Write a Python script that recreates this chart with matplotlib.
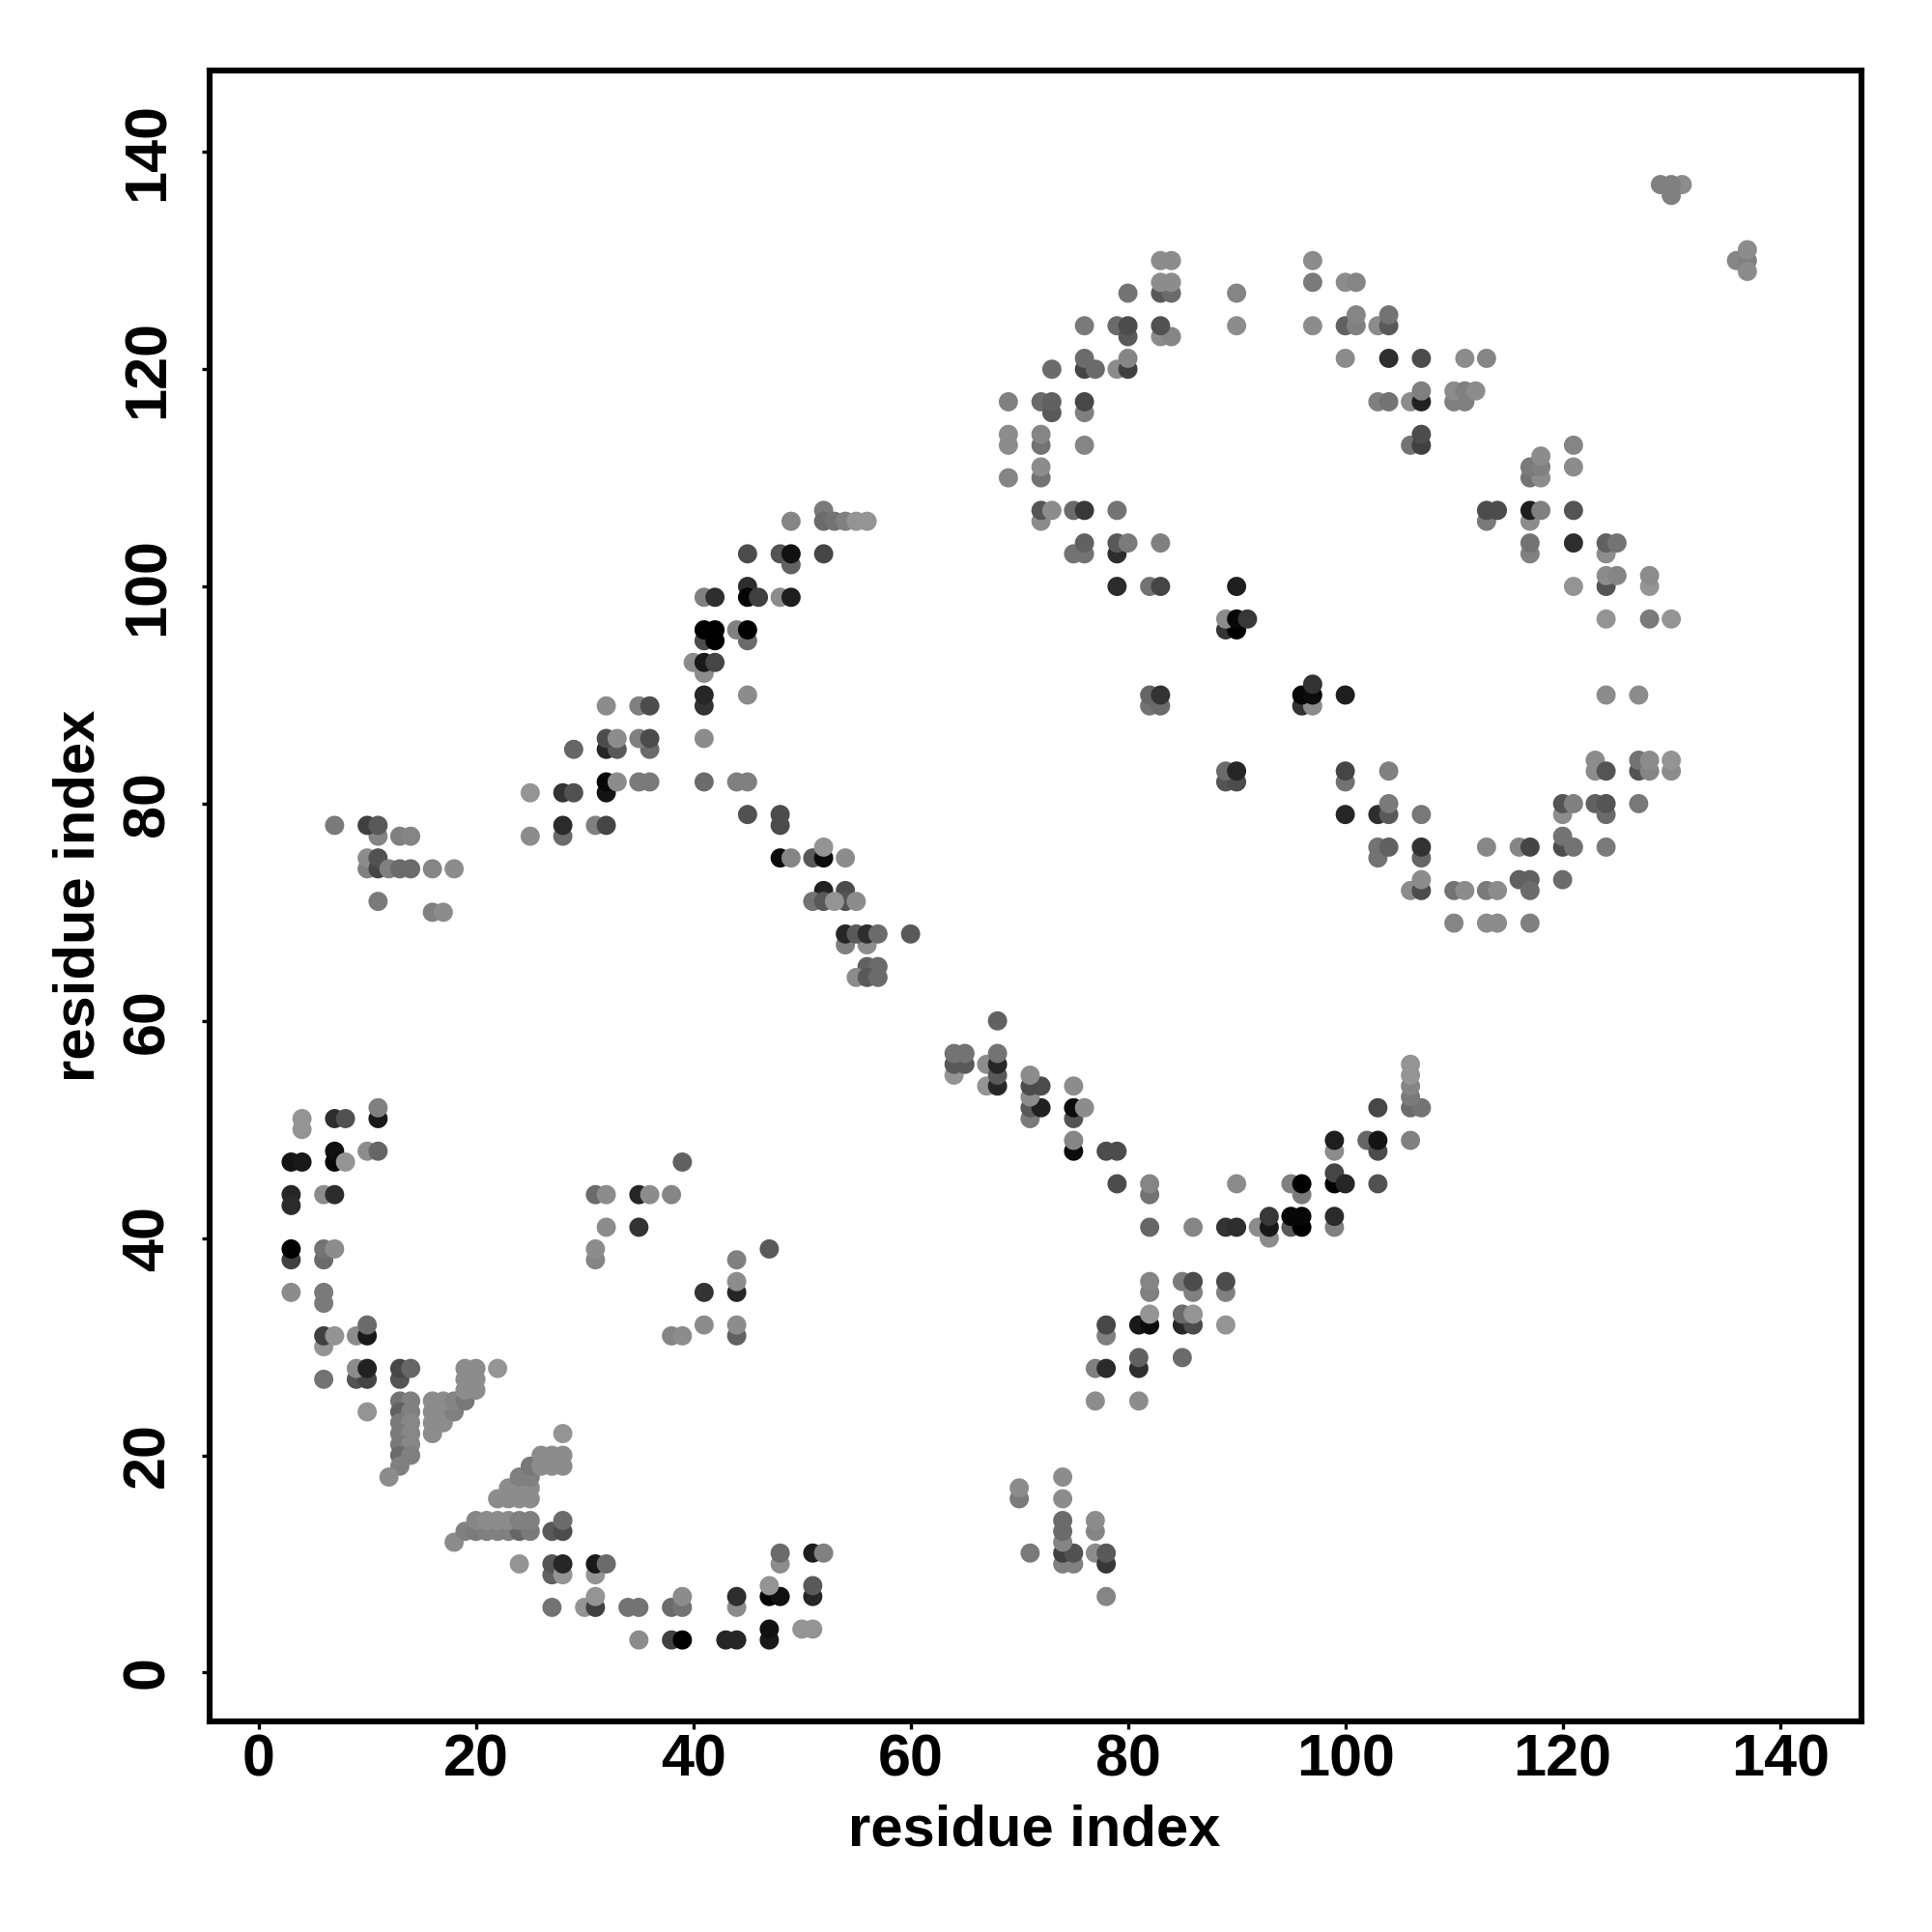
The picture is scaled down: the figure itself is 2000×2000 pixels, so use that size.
import numpy as np
import matplotlib
matplotlib.use('Agg')
import matplotlib.pyplot as plt

plt.rcParams['font.family'] = ['Liberation Sans', 'DejaVu Sans']

# contacts as (residue i, residue j, grey level), grouped by region of the map
left_arc = [(4,50,.58),(4,51,.58),(7,51,.18),(8,51,.32),(11,51,.1),(11,52,.5),
            (7,47,.03),(7,48,.07),(8,47,.58),(10,48,.55),(11,48,.4),(3,47,.08),(4,47,.1),
            (3,44,.15),(3,43,.17),(6,44,.55),(7,44,.17),
            (3,38,.25),(3,39,.0),(6,38,.42),(6,39,.45),(7,39,.55),(3,35,.55),(6,35,.48),(6,34,.48),
            (6,30,.58),(6,31,.25),(7,31,.58),(9,31,.55),(10,31,.1),(10,32,.42),
            (6,27,.45),(9,27,.33),(10,27,.27),(9,28,.55),(10,28,.13),(13,27,.33),(13,28,.28),(14,28,.4),(10,24,.58)]

helix_a = [(13,25,.45),(14,25,.5),(13,24,.38),(14,24,.5),(13,23,.48),(14,23,.53),(13,22,.48),(14,22,.53),
           (13,21,.48),(14,21,.53),(13,20,.42),(14,20,.5),(13,19,.5),(12,18,.55),
           (16,22,.55),(16,23,.55),(17,23,.55),(16,24,.55),(17,24,.55),(18,24,.5),(16,25,.55),(17,25,.55),
           (18,25,.52),(19,25,.47),(19,26,.55),(20,26,.55),(19,27,.55),(20,27,.55),(19,28,.55),(20,28,.55),(22,28,.58)]

helix_b = [(18,12,.55),(19,13,.5),(20,13,.48),(21,13,.5),(22,13,.5),(23,13,.5),(24,13,.4),(25,13,.48),
           (20,14,.53),(21,14,.55),(22,14,.55),(23,14,.55),(24,14,.5),(25,14,.5),(27,13,.35),(28,13,.3),(28,14,.42),
           (22,16,.55),(23,16,.55),(24,16,.55),(25,16,.55),(23,17,.55),(24,17,.55),(25,17,.55),(24,18,.5),(25,18,.5),
           (25,19,.47),(26,19,.55),(27,19,.55),(28,19,.55),(26,20,.55),(27,20,.55),(28,20,.55),(28,22,.58)]

bottom_arc = [(24,10,.58),(27,9,.38),(27,10,.33),(28,9,.58),(28,10,.15),(31,9,.58),(31,10,.1),(32,10,.42),
              (48,10,.55),(48,11,.42),(51,11,.12),(52,11,.5),
              (27,6,.45),(30,6,.58),(31,6,.25),(31,7,.58),(34,6,.45),(35,6,.45),(38,6,.42),(39,6,.45),(39,7,.55),
              (44,6,.55),(44,7,.18),(47,7,.0),(48,7,.07),(47,8,.58),(51,7,.15),(51,8,.35),
              (35,3,.55),(38,3,.25),(39,3,.0),(43,3,.15),(44,3,.15),(47,3,.1),(47,4,.07),(50,4,.58),(51,4,.58)]

middle_left = [(31,44,.42),(32,44,.55),(35,44,.15),(36,44,.55),(38,44,.52),(39,47,.38),(32,41,.55),(35,41,.2),
               (31,38,.52),(31,39,.55),(44,38,.5),(47,39,.35),(44,35,.15),(44,36,.55),(41,35,.2),
               (44,31,.38),(44,32,.55),(41,32,.55),(38,31,.52),(39,31,.55)]

far_left = [(7,78,.48),(11,77,.52),(10,78,.25),(11,78,.35),(13,77,.5),(14,77,.52),
            (10,74,.5),(10,75,.55),(11,74,.27),(11,75,.32),(12,74,.5),(13,74,.42),(14,74,.42),(16,74,.52),(18,74,.55),
            (11,71,.48),(16,70,.5),(17,70,.55)]

diag_up = [(25,77,.55),(28,77,.42),(28,78,.17),(31,78,.5),(32,78,.27),
           (25,81,.58),(28,81,.2),(29,81,.32),(32,81,.08),(32,82,.03),(33,82,.55),(35,82,.48),(36,82,.48),
           (29,85,.4),(32,85,.15),(33,85,.35),(36,85,.42),(32,86,.3),(33,86,.55),(35,86,.5),(36,86,.3),
           (32,89,.55),(35,89,.5),(36,89,.3),
           (41,82,.42),(44,82,.5),(45,82,.5),(41,86,.55),(41,89,.2),(41,90,.15),(45,90,.55),(41,92,.55),
           (40,93,.55),(41,93,.1),(42,93,.27),(41,95,.3),(42,95,.0),(45,95,.42),(41,96,.0),(42,96,.0),(44,96,.5),(45,96,.0),
           (41,99,.5),(42,99,.18),(45,100,.18),(45,99,.02),(46,99,.25),(48,99,.55),(49,99,.12),
           (45,103,.3),(48,103,.33),(49,102,.38),(49,103,.07),(52,103,.27),
           (49,106,.52),(52,107,.48),(52,106,.42),(53,106,.45),(54,106,.5),(55,106,.58),(56,106,.58)]

diag_down = [(45,79,.32),(48,78,.3),(48,79,.3),(48,75,.05),(49,75,.52),(51,75,.35),(52,75,.05),(52,76,.58),(54,75,.55),
             (52,72,.13),(54,72,.3),(51,71,.45),(52,71,.35),(54,71,.33),(53,71,.58),(55,71,.55),
             (54,67,.5),(56,67,.55),(54,68,.15),(55,68,.35),(56,68,.18),(57,68,.42),(60,68,.35),
             (56,65,.38),(57,65,.42),(55,64,.55),(56,64,.35),(57,64,.42)]

lower_vee = [(64,55,.58),(64,56,.35),(65,56,.35),(64,57,.45),(65,57,.45),(67,56,.55),(67,54,.58),
             (68,54,.15),(68,55,.35),(68,56,.15),(68,57,.45),(68,60,.38),
             (71,51,.48),(71,52,.35),(72,52,.13),(71,53,.55),(71,54,.3),(72,54,.3),(71,55,.55),
             (75,51,.33),(75,52,.05),(76,52,.55),(75,54,.55),(75,48,.05),(75,49,.52),(78,48,.3),(79,48,.3),
             (79,45,.3),(82,44,.45),(82,45,.52),(82,41,.4),(86,41,.52),(89,41,.2),(90,41,.18),(90,45,.55),
             (92,41,.55),(93,40,.55),(93,41,.1),(93,42,.22),(95,41,.35),(96,41,.0),(95,42,.03),(96,42,.03),
             (95,45,.5),(96,44,.48),(96,45,.0),(99,41,.5),(99,42,.17),(99,45,.0),(99,46,.27),(100,45,.15),
             (99,48,.55),(99,49,.12),(102,49,.4),(103,48,.3),(103,49,.08),(103,52,.28),(103,45,.32),
             (106,49,.5),(106,52,.42),(107,52,.45),(106,53,.48),(106,54,.52),(106,55,.58),(106,56,.58)]

lower_mid = [(77,25,.55),(81,25,.55),(77,28,.5),(78,28,.17),(81,28,.18),(81,29,.38),(85,29,.42),
             (78,31,.5),(78,32,.28),(81,32,.1),(82,32,.05),(82,33,.58),(85,32,.15),(86,32,.3),(85,33,.42),(86,33,.58),
             (89,32,.58),(82,35,.5),(82,36,.52),(86,35,.5),(85,36,.48),(86,36,.3),(89,35,.5),(89,36,.3)]

lower_small = [(70,16,.48),(70,17,.55),(71,11,.48),(74,10,.5),(75,10,.5),(74,11,.25),(75,11,.32),(74,12,.52),
               (74,13,.42),(74,14,.42),(74,16,.55),(74,18,.55),(77,11,.55),(77,13,.52),(77,14,.55),
               (78,7,.52),(78,10,.22),(78,11,.35)]

ring_upper = [(69,110,.52),(69,113,.55),(69,114,.55),(69,117,.5),(72,106,.55),(72,107,.33),(73,107,.55),(72,110,.45),
              (72,111,.55),(72,113,.45),(72,114,.52),(72,117,.42),(73,116,.35),(73,117,.38),(73,120,.42),
              (76,113,.52),(76,116,.5),(76,117,.28),(76,120,.27),(77,120,.42),(76,121,.42),(76,124,.48),
              (75,107,.42),(76,107,.22),(75,103,.45),(76,103,.45),(76,104,.38),(79,103,.18),(79,104,.35),(80,104,.48),
              (83,104,.5),(79,107,.45),(79,100,.17),(82,100,.45),(83,100,.27),
              (79,120,.55),(80,120,.25),(80,121,.52),(79,124,.42),(80,123,.35),(80,124,.3),(80,127,.45),
              (83,123,.55),(84,123,.52),(83,124,.32),(83,127,.35),(84,127,.42),(83,128,.55),(84,128,.55),(83,130,.55),(84,130,.55),
              (90,124,.55),(90,127,.52),(97,124,.55),(97,128,.48),(97,130,.55),(100,128,.55),(101,128,.52),
              (100,124,.38),(101,124,.5),(101,125,.52),(103,124,.55),(104,124,.35),(104,125,.45),
              (100,121,.55),(104,121,.18),(107,121,.3),(111,121,.55),(113,121,.52),
              (103,117,.5),(104,117,.45),(106,117,.55),(107,117,.13),(107,118,.5),(110,117,.5),(111,117,.5),
              (110,118,.55),(111,118,.5),(112,118,.55),(106,113,.45),(107,113,.25),(107,114,.3)]

ring_right = [(113,106,.48),(113,107,.3),(114,107,.3),(117,106,.55),(117,107,.12),(118,107,.5),(121,107,.33),
              (117,103,.5),(117,104,.45),(121,104,.18),(124,103,.55),(124,104,.38),(125,104,.45),
              (117,110,.45),(118,110,.55),(117,111,.48),(118,111,.5),(118,112,.55),(121,111,.55),(121,113,.52),
              (121,100,.58),(124,100,.33),(124,101,.55),(125,101,.52),(128,100,.58),(128,101,.55),
              (124,97,.58),(128,97,.48),(130,97,.58),(124,90,.55),(127,90,.55)]

corner = [(129,137,.5),(131,137,.55),(130,136,.5),(130,137,.5),(136,130,.52),(137,130,.5),(137,131,.55),(137,129,.55)]

centre = [(89,96,.2),(90,96,.0),(89,97,.55),(90,97,.03),(91,97,.22),(90,100,.12),(82,89,.45),(83,89,.42),(82,90,.4),(83,90,.2),
          (96,89,.2),(97,89,.55),(96,90,.03),(97,90,.05),(97,91,.2),(100,90,.12),(89,82,.33),(90,82,.3),(89,83,.42),(90,83,.15)]

ring_lower = [(100,82,.45),(100,83,.27),(104,83,.5),(100,79,.15),(103,79,.18),(104,79,.35),(104,80,.48),(107,79,.47),
              (103,75,.45),(103,76,.45),(104,76,.38),(107,75,.4),(107,76,.2),(106,72,.55),(107,72,.3),(107,73,.55),
              (110,72,.45),(111,72,.55),(113,72,.48),(114,72,.55),(116,73,.38),(117,73,.38),(117,72,.42),
              (113,76,.53),(116,76,.52),(117,76,.27),(120,73,.42),(120,76,.3),(121,76,.45),(120,77,.45),(124,76,.48),
              (110,69,.52),(113,69,.55),(114,69,.55),(117,69,.5),
              (120,79,.55),(120,80,.33),(121,80,.5),(123,80,.38),(124,79,.42),(124,80,.33),(127,80,.47),
              (123,83,.55),(123,84,.55),(124,83,.33),(127,83,.33),(127,84,.45),(128,83,.52),(128,84,.55),(130,83,.55),(130,84,.58)]

tick_vals = [0, 20, 40, 60, 80, 100, 120, 140]

regions = [left_arc, helix_a, helix_b, bottom_arc, middle_left, far_left, diag_up, diag_down,
           lower_vee, lower_mid, lower_small, ring_upper, ring_right, corner, centre, ring_lower]
pts = np.array([p for r in regions for p in r])

fig = plt.figure(figsize=(20, 20), dpi=100)
ax = fig.add_axes([217/2000, 218/2000, 1710/2000, 1709/2000])

ax.scatter(pts[:,0], pts[:,1], c=pts[:,2], cmap='gray', vmin=0, vmax=1, s=205, linewidths=0, zorder=2)

ax.set_xlim(-4.5, 147.5)
ax.set_ylim(-4.5, 147.5)
ax.set_xticks(tick_vals)
ax.set_yticks(tick_vals)

for s in ax.spines.values():
    s.set_linewidth(4.4)
ax.tick_params(length=6, width=2.4, labelsize=44, pad=3)
ax.tick_params(axis='y', pad=19)
for lab in ax.get_xticklabels() + ax.get_yticklabels():
    lab.set_fontweight('bold')
for lab in ax.get_yticklabels():
    lab.set_rotation(90)
    lab.set_va('center')

fig.text(1071/2000, 1 - 1895/2000, 'residue index', fontsize=43, fontweight='bold', ha='center', va='center')
fig.text(82/2000, 1 - 927/2000, 'residue index', fontsize=43, fontweight='bold', ha='center', va='center', rotation=90)

fig.savefig('out.png', dpi=100)
